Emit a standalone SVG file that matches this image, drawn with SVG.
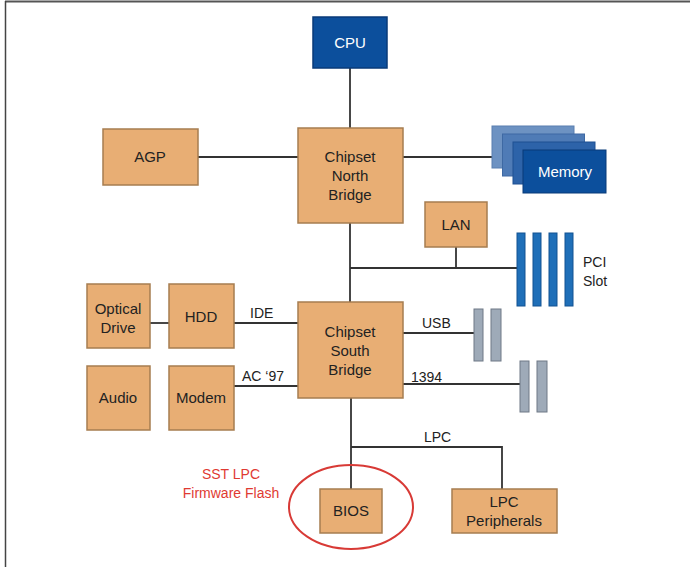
<svg xmlns="http://www.w3.org/2000/svg" width="690" height="567" viewBox="0 0 690 567">
<style>
.t{font-family:"Liberation Sans",Arial,sans-serif;font-size:15px;fill:#222;text-anchor:middle}
.tw{font-family:"Liberation Sans",Arial,sans-serif;font-size:15px;fill:#fff;text-anchor:middle}
.lb{font-family:"Liberation Sans",Arial,sans-serif;font-size:14px;fill:#222}
.red{font-family:"Liberation Sans",Arial,sans-serif;font-size:14px;fill:#e03a32;text-anchor:middle}
.box{fill:#e8ae74;stroke:#a67d50;stroke-width:1.5}
.blue{fill:#0c4f9c;stroke:#083a78;stroke-width:1.5}
.pci{fill:#1f6fb8;stroke:#135392;stroke-width:1}
.gray{fill:#9eaab8;stroke:#6e7886;stroke-width:1}
.ln{stroke:#333;stroke-width:1.8;fill:none}
</style>
<rect width="690" height="567" fill="#fff"/>
<g id="frame">
<line x1="5" y1="1.5" x2="690" y2="1.5" stroke="#555" stroke-width="2"/>
<line x1="5.5" y1="1" x2="5.5" y2="567" stroke="#444" stroke-width="1.5"/>
</g>
<g id="connectors">
<line class="ln" x1="350" y1="68" x2="350" y2="128"/>
<line class="ln" x1="198" y1="157" x2="298" y2="157"/>
<line class="ln" x1="403" y1="157" x2="493" y2="157"/>
<line class="ln" x1="350" y1="223" x2="350" y2="302"/>
<line class="ln" x1="350" y1="268" x2="517" y2="268"/>
<line class="ln" x1="456" y1="247" x2="456" y2="268"/>
<line class="ln" x1="150" y1="323" x2="169" y2="323"/>
<line class="ln" x1="234" y1="323" x2="298" y2="323"/>
<line class="ln" x1="234" y1="386" x2="298" y2="386"/>
<line class="ln" x1="403" y1="333" x2="474" y2="333"/>
<line class="ln" x1="403" y1="384" x2="520" y2="384"/>
<line class="ln" x1="351" y1="398" x2="351" y2="489"/>
<polyline class="ln" points="351,447 502,447 502,489"/>
<text class="lb" x="250" y="318">IDE</text>
<text class="lb" x="242" y="381">AC ‘97</text>
<text class="lb" x="422" y="328">USB</text>
<text class="lb" x="411" y="382">1394</text>
<text class="lb" x="424" y="442">LPC</text>
</g>
<g id="cpu"><rect class="blue" x="313" y="17" width="74" height="51"/><text class="tw" x="350" y="48">CPU</text></g>
<g id="agp"><rect class="box" x="103" y="129" width="95" height="56"/><text class="t" x="150" y="162">AGP</text></g>
<g id="northbridge"><rect class="box" x="298" y="128" width="105" height="95"/>
<text class="t" x="350" y="162">Chipset</text><text class="t" x="350" y="181">North</text><text class="t" x="350" y="200">Bridge</text></g>
<g id="memory">
<rect x="492" y="126" width="82" height="42" fill="#6d92c2" stroke="#5a7fb0"/>
<rect x="502.5" y="134" width="82" height="42" fill="#4f7bb6" stroke="#3e69a3"/>
<rect x="513" y="142" width="82" height="42" fill="#2d63a9" stroke="#1f5092"/>
<rect x="523" y="150" width="83" height="43" fill="#0c4f9c" stroke="#083a78"/>
<text class="tw" x="565" y="177">Memory</text></g>
<g id="lan"><rect class="box" x="425" y="202" width="62" height="45"/><text class="t" x="456" y="230">LAN</text></g>
<g id="pci">
<rect class="pci" x="517" y="233" width="8" height="73"/>
<rect class="pci" x="533" y="233" width="8" height="73"/>
<rect class="pci" x="549" y="233" width="8" height="73"/>
<rect class="pci" x="565" y="233" width="8" height="73"/>
<text class="lb" x="583" y="267">PCI</text><text class="lb" x="583" y="286">Slot</text></g>
<g id="southbridge"><rect class="box" x="298" y="302" width="105" height="96"/>
<text class="t" x="350" y="337">Chipset</text><text class="t" x="350" y="356">South</text><text class="t" x="350" y="375">Bridge</text></g>
<g id="optical"><rect class="box" x="87" y="284" width="63" height="64"/>
<text class="t" x="118" y="314">Optical</text><text class="t" x="118" y="333">Drive</text></g>
<g id="hdd"><rect class="box" x="169" y="284" width="65" height="64"/><text class="t" x="201" y="322">HDD</text></g>
<g id="audio"><rect class="box" x="87" y="366" width="63" height="64"/><text class="t" x="118" y="403">Audio</text></g>
<g id="modem"><rect class="box" x="169" y="366" width="65" height="64"/><text class="t" x="201" y="403">Modem</text></g>
<g id="usb">
<rect class="gray" x="474" y="309" width="9" height="52"/>
<rect class="gray" x="491" y="309" width="10" height="52"/></g>
<g id="ieee1394">
<rect class="gray" x="520" y="361" width="9" height="51"/>
<rect class="gray" x="537" y="361" width="10" height="51"/></g>
<g id="bios"><rect class="box" x="320" y="489" width="62" height="44"/><text class="t" x="351" y="516">BIOS</text></g>
<g id="lpcperipherals"><rect class="box" x="452" y="489" width="105" height="44"/>
<text class="t" x="504" y="507">LPC</text><text class="t" x="504" y="526">Peripherals</text></g>
<g id="highlight">
<ellipse cx="351" cy="507" rx="62" ry="42" fill="none" stroke="#d83a36" stroke-width="2"/>
<text class="red" x="231" y="479">SST LPC</text><text class="red" x="231" y="498">Firmware Flash</text></g>
</svg>
